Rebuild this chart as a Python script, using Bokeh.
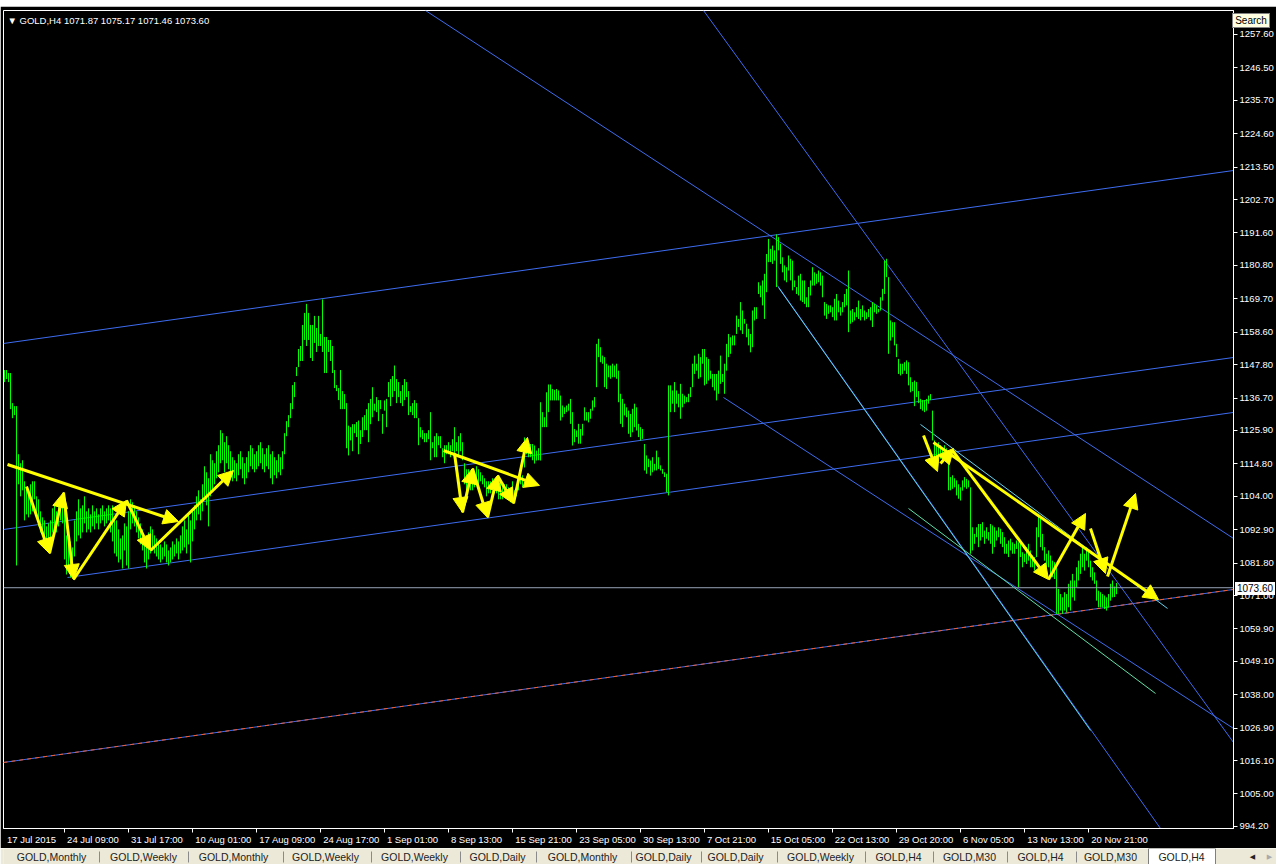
from bokeh.plotting import figure
from bokeh.models import (Range1d, FixedTicker, NumeralTickFormatter, Arrow, NormalHead,
                          ColumnDataSource, Label, Span, Div)
from bokeh.layouts import column
from bokeh.embed import file_html
from bokeh.resources import INLINE
from bokeh.core.properties import value

# ---------------- data ----------------
symbol = "GOLD,H4"
last_ohlc = [1071.87, 1075.17, 1071.46, 1073.60]

bar_high = [
 1146, 1146, 1145, 1145, 1135, 1134, 1134, 1118, 1115, 1116,
 1109, 1107, 1105, 1108, 1109, 1109, 1104, 1103, 1099, 1097,
 1096, 1094, 1095, 1096, 1100, 1101, 1099, 1103, 1102, 1104,
 1101, 1091, 1093, 1089, 1087, 1096, 1099, 1103, 1100, 1101,
 1104, 1099, 1100, 1098, 1101, 1099, 1100, 1098, 1100, 1101,
 1099, 1100, 1101, 1100, 1101, 1097, 1096, 1093, 1090, 1091,
 1095, 1094, 1099, 1103, 1102, 1101, 1099, 1097, 1095, 1093,
 1090, 1089, 1092, 1094, 1093, 1091, 1090, 1089, 1088, 1087,
 1089, 1088, 1086, 1087, 1089, 1088, 1090, 1089, 1091, 1094,
 1096, 1093, 1098, 1096, 1099, 1101, 1104, 1106, 1103, 1108,
 1114, 1112, 1110, 1118, 1116, 1115, 1119, 1121, 1126, 1125,
 1122, 1124, 1121, 1119, 1117, 1116, 1115, 1118, 1119, 1117,
 1115, 1117, 1119, 1121, 1120, 1118, 1119, 1121, 1122, 1120,
 1118, 1120, 1121, 1118, 1119, 1117, 1116, 1118, 1117, 1119,
 1125, 1129, 1131, 1135, 1141, 1142, 1147, 1153, 1154, 1161,
 1165, 1168, 1165, 1161, 1161, 1164, 1160, 1164, 1158, 1169.5,
 1157, 1157, 1156, 1156, 1154, 1146, 1141, 1140, 1146, 1139,
 1138, 1135, 1127.5, 1127, 1128, 1128, 1128.7, 1129.2, 1126, 1130.3,
 1131, 1133, 1135, 1136.4, 1140.3, 1134.8, 1137, 1136, 1136, 1131.4,
 1135.9, 1136.4, 1142, 1143, 1144, 1147.5, 1143, 1142, 1139, 1141,
 1143, 1142, 1139, 1134, 1135, 1136, 1135, 1130, 1127, 1126,
 1125, 1125, 1126, 1132, 1122, 1124, 1125, 1124, 1124, 1120,
 1121, 1121, 1122, 1121, 1123, 1127, 1122, 1124, 1125, 1122,
 1115, 1113, 1113, 1112, 1109, 1111, 1114, 1113, 1112, 1111,
 1110, 1109, 1109, 1109, 1110, 1109, 1109, 1110, 1109, 1107,
 1108, 1108, 1107, 1106, 1109, 1106, 1108, 1111, 1111, 1111,
 1123.6, 1121, 1121, 1121.4, 1121.4, 1120.9, 1119.2, 1120, 1135.3, 1132,
 1130.3, 1138.6, 1141.2, 1141.2, 1139.7, 1139.4, 1139.7, 1139.2, 1137.5, 1134.2,
 1133.6, 1134.2, 1134.8, 1136.4, 1132, 1126.4, 1125.9, 1128.1, 1126.4, 1128.1,
 1133.6, 1132, 1132, 1133.1, 1135.9, 1137, 1154.7, 1156.4, 1153.6, 1150.8,
 1150.3, 1148.1, 1147.5, 1147.5, 1148.1, 1147.5, 1148.1, 1145.8, 1138.1, 1136.4,
 1134.8, 1133.6, 1132.5, 1131.4, 1133.1, 1134.8, 1133.6, 1128.1, 1127, 1126.4,
 1121.4, 1117.6, 1116.5, 1115.9, 1117, 1114.8, 1119.2, 1117, 1114.3, 1113.1,
 1112, 1111.5, 1140.9, 1140.9, 1139.2, 1142, 1139.2, 1138.1, 1141.4, 1138.1,
 1137.5, 1137, 1138.1, 1140.3, 1148.1, 1150.8, 1148.1, 1151.4, 1150.3, 1153,
 1153, 1150.3, 1149.7, 1145.8, 1144.7, 1144.7, 1144.7, 1145.8, 1150.8, 1144.7,
 1148.1, 1154.7, 1158, 1156.9, 1157.5, 1157.5, 1164.1, 1163, 1168.6, 1165.8,
 1163, 1161.4, 1159.7, 1158, 1165.8, 1166.9, 1166.9, 1175.2, 1174.1, 1175.8,
 1178, 1184.6, 1189.6, 1186.3, 1187.4, 1185.8, 1191.1, 1190.2, 1188, 1183.5,
 1180.8, 1180.2, 1184.1, 1183, 1182.4, 1175.8, 1173.6, 1177.4, 1178, 1175.8,
 1175.8, 1170.2, 1173.6, 1175.8, 1180.2, 1178.5, 1178, 1179.1, 1178.5, 1177.4,
 1168.6, 1168, 1167.5, 1167.5, 1166.9, 1169.7, 1171.3, 1169.1, 1166.9, 1168.6,
 1171.3, 1173, 1179.1, 1165.8, 1166.3, 1165.2, 1166.9, 1169.1, 1166.3, 1167.5,
 1165.8, 1165.2, 1166.3, 1166.9, 1168.6, 1168, 1167.5, 1166.3, 1170.2, 1173,
 1182.4, 1183, 1176.9, 1162.5, 1161.9, 1161.9, 1154.7, 1149.7, 1148.1, 1148.1,
 1148.6, 1149.2, 1148.6, 1143.6, 1142, 1142.5, 1142, 1139, 1136.4, 1136,
 1136, 1136.4, 1137.5, 1138, 1132.5, 1122.6, 1121, 1122, 1121, 1120,
 1121, 1120, 1115.9, 1110.4, 1111, 1110, 1109.3, 1108, 1107, 1109.3,
 1110.4, 1109.8, 1109.3, 1107, 1093.7, 1091.5, 1093.7, 1094.8, 1094.8, 1095.4,
 1092.6, 1093.7, 1092.1, 1094.8, 1094.3, 1093.7, 1092.6, 1093.7, 1093.2, 1092.1,
 1090.4, 1088.2, 1089.3, 1089.9, 1088.7, 1088.2, 1089.3, 1088.7, 1088.2, 1085.4,
 1084.9, 1087.1, 1088.2, 1086, 1084.3, 1083.8, 1093.7, 1098.2, 1097.1, 1091.5,
 1087.1, 1084.9, 1086, 1084.3, 1082.6, 1082.1, 1080.4, 1073.2, 1071.5, 1070.4,
 1072.1, 1071.5, 1074.9, 1076, 1078.2, 1076, 1080.4, 1082.6, 1084.9, 1087.1,
 1084.9, 1087.1, 1086, 1082.6, 1080.4, 1078.7, 1076, 1072.6, 1072.1, 1071.5,
 1071, 1070.4, 1071.5, 1074.9, 1076, 1074, 1075.17,
]

bar_low = [
 1142, 1143, 1142, 1133, 1130, 1131, 1081, 1108, 1104, 1106,
 1096, 1098, 1097, 1098, 1099, 1103, 1097, 1094, 1092, 1091,
 1088, 1087, 1089, 1090, 1092, 1093, 1092, 1094, 1096, 1095,
 1083, 1078, 1080, 1077, 1079, 1084, 1089, 1091, 1090, 1092,
 1095, 1092, 1093, 1092, 1094, 1093, 1095, 1093, 1095, 1096,
 1094, 1095, 1096, 1092, 1089, 1085, 1084, 1082, 1083, 1080,
 1086, 1081, 1080, 1093, 1095, 1094, 1092, 1090, 1088, 1086,
 1082, 1080, 1083, 1085, 1086, 1085, 1084, 1083, 1082, 1083,
 1084, 1082, 1081, 1082, 1083, 1084, 1085, 1083, 1085, 1086,
 1087, 1085, 1088, 1082, 1089, 1093, 1096, 1098, 1096, 1099,
 1104, 1101, 1094, 1104, 1106, 1108, 1110, 1112, 1115, 1116,
 1112, 1115, 1113, 1110, 1109, 1110, 1109, 1111, 1113, 1110,
 1108, 1110, 1112, 1114, 1113, 1112, 1113, 1114, 1115, 1113,
 1112, 1114, 1113, 1110, 1108, 1111, 1110, 1112, 1111, 1113,
 1118, 1124, 1127, 1130, 1133, 1137, 1144, 1147, 1149, 1149,
 1156, 1154, 1156, 1150, 1149, 1155, 1152, 1154, 1154, 1152,
 1145, 1145, 1152, 1149, 1145, 1140, 1139, 1136, 1133, 1133,
 1133, 1120, 1117.6, 1122.6, 1119, 1125, 1123.7, 1118, 1121.4, 1123.7,
 1126, 1126, 1122, 1128, 1130.3, 1132.5, 1132, 1129, 1133, 1124.8,
 1132.5, 1127, 1137, 1134, 1137, 1139, 1135, 1137, 1135, 1134,
 1136, 1137, 1131, 1132, 1131, 1130, 1130, 1121, 1123.6, 1123,
 1122, 1122, 1123, 1116, 1120, 1117, 1117, 1121, 1120, 1117,
 1115, 1118, 1118, 1117, 1119, 1117, 1119, 1117, 1119, 1116,
 1108, 1106, 1109, 1106, 1106, 1107, 1108, 1107, 1109, 1108,
 1107, 1104, 1105, 1105, 1106, 1105, 1105, 1103, 1103, 1103,
 1104, 1104, 1103, 1102, 1104, 1103, 1104, 1106, 1108, 1107,
 1113.6, 1118, 1117, 1117, 1116, 1114.9, 1115.9, 1116, 1115.9, 1127,
 1127, 1127, 1132, 1135.9, 1135.9, 1135.9, 1135.9, 1135.9, 1129.2, 1130.3,
 1131.4, 1132, 1132.5, 1128.1, 1120.9, 1122, 1123.7, 1121.5, 1121.5, 1124.2,
 1129.2, 1129.2, 1128.6, 1129.8, 1132.5, 1133.6, 1140.3, 1150.3, 1148.6, 1148.1,
 1140.3, 1139.7, 1143.6, 1143.1, 1143.6, 1143.6, 1143.1, 1135.3, 1128.1, 1127,
 1130.9, 1130.3, 1124.8, 1123.7, 1125.3, 1127, 1125.9, 1123.7, 1122.6, 1123.1,
 1112.6, 1111.5, 1113.7, 1110.9, 1112, 1112.6, 1112.6, 1113.1, 1112.6, 1111.5,
 1110.4, 1105.4, 1104.3, 1132, 1134.8, 1132, 1134.8, 1133.6, 1129.8, 1133.6,
 1134.8, 1135.3, 1135.3, 1137, 1140.3, 1144.7, 1145.8, 1143.1, 1143.6, 1148.1,
 1140.9, 1141.4, 1142.5, 1143.1, 1140.3, 1139.2, 1135.9, 1138.1, 1141.4, 1142,
 1138.1, 1145.8, 1150.3, 1151.4, 1154.2, 1154.2, 1158, 1160.3, 1159.2, 1158,
 1161.4, 1156.9, 1154.2, 1151.9, 1153.6, 1162.5, 1163, 1171.3, 1170.2, 1167.5,
 1163, 1171.9, 1181.9, 1181.9, 1181.3, 1182.4, 1173.6, 1185.8, 1181.3, 1178.5,
 1175.8, 1175.2, 1179.1, 1175.8, 1172.5, 1173.6, 1171.3, 1170.8, 1169.1, 1168.6,
 1168, 1166.9, 1166.9, 1170.8, 1174.1, 1174.1, 1174.7, 1175.2, 1174.1, 1170.2,
 1164.1, 1163, 1164.7, 1165.2, 1163.6, 1162.5, 1162.5, 1165.2, 1164.1, 1165.2,
 1166.9, 1167.5, 1158.6, 1161.4, 1161.9, 1162.5, 1163.6, 1163, 1162.5, 1163.6,
 1162.5, 1163, 1163.6, 1162.5, 1160.3, 1165.2, 1164.7, 1165.2, 1165.8, 1169.1,
 1171.3, 1176.9, 1151.4, 1155.8, 1156.9, 1154.2, 1150.3, 1144.7, 1144.2, 1144.7,
 1145.8, 1144.7, 1140.9, 1138.6, 1139, 1134, 1137, 1135, 1133, 1132.5,
 1132, 1132.5, 1134.8, 1136, 1122.6, 1117, 1116, 1117, 1116.5, 1116,
 1117, 1116, 1106, 1106, 1106.5, 1107, 1104.3, 1103.2, 1102.6, 1105.9,
 1107, 1106.5, 1107, 1084.9, 1086, 1088.2, 1090.4, 1087.1, 1089.3, 1090.4,
 1088.2, 1089.9, 1089.3, 1088.2, 1084.9, 1087.1, 1089.3, 1090.4, 1088.2, 1087.1,
 1084.9, 1084.9, 1083.8, 1086, 1084.9, 1084.9, 1086.5, 1073.8, 1083.8, 1080.4,
 1082.1, 1081.5, 1082.6, 1080.4, 1080.4, 1079.3, 1083.8, 1090.4, 1087.1, 1086,
 1082.6, 1080.4, 1080.4, 1077.1, 1077.1, 1076.5, 1064.9, 1064.9, 1066, 1064.9,
 1066, 1065.4, 1067.1, 1066, 1070.4, 1069.3, 1073.8, 1076, 1078.2, 1080.4,
 1079.3, 1082.6, 1080.4, 1077.1, 1076, 1074.9, 1069.3, 1067.1, 1067.1, 1067.1,
 1066.5, 1066, 1067.1, 1069.3, 1070.4, 1070.5, 1071.46,
]

time_labels = ["17 Jul 2015", "24 Jul 09:00", "31 Jul 17:00", "10 Aug 01:00", "17 Aug 09:00",
               "24 Aug 17:00", "1 Sep 01:00", "8 Sep 13:00", "15 Sep 21:00", "23 Sep 05:00",
               "30 Sep 13:00", "7 Oct 21:00", "15 Oct 05:00", "22 Oct 13:00", "29 Oct 20:00",
               "6 Nov 05:00", "13 Nov 13:00", "20 Nov 21:00"]
time_label_bars = [0, 30, 62, 94, 126, 158, 190, 222, 254, 286, 318, 350, 382, 414, 446, 478, 510, 542]

price_ticks = [1257.6, 1246.5, 1235.7, 1224.6, 1213.5, 1202.7, 1191.6, 1180.8, 1169.7, 1158.6,
               1147.8, 1136.7, 1125.9, 1114.8, 1104.0, 1092.9, 1081.8, 1071.0, 1059.9, 1049.1,
               1038.0, 1026.9, 1016.1, 1005.0, 994.2]

# trend lines (bar index, price)
blue_x0 = [-0.5, -0.5, 31.5, 210.5, 349.5, 359.5, 386.5]
blue_y0 = [1154.83, 1092.97, 1077.0, 1265.58, 1265.58, 1136.87, 1174.1]
blue_x1 = [614.5, 614.5, 614.5, 614.5, 614.5, 614.5, 578.0]
blue_y1 = [1212.37, 1150.18, 1131.9, 1089.98, 1022.13, 1026.79, 993.52]

cyan_x0 = [387.0, 458.0]
cyan_y0 = [1173.46, 1127.9]
cyan_x1 = [543.0, 581.5]
cyan_y1 = [1026.13, 1066.7]

green_x0 = [452.0]
green_y0 = [1099.96]
green_x1 = [575.5]
green_y1 = [1038.43]

support_x = [-0.5, 614.5]
support_y = [1015.48, 1073.02]

# yellow arrows (start -> end)
arrow_x0 = [1.5, 11, 22.5, 29.5, 34.5, 61, 73,
            219.5, 225, 229, 234, 241.5, 246.5, 254.5,
            464.5, 459.5, 468, 474, 522, 543, 551.5]
arrow_y0 = [1114.59, 1107.27, 1085.0, 1105.28, 1076.34, 1102.62, 1085.99,
            1119.25, 1118.25, 1098.63, 1113.26, 1096.97, 1110.93, 1101.62,
            1121.91, 1124.23, 1114.93, 1119.25, 1076.34, 1093.31, 1077.34]
arrow_x1 = [87, 22.5, 29.5, 34.5, 61, 73, 114.5,
            267.5, 229, 234, 241.5, 246.5, 254.5, 261.5,
            577, 466.5, 474.5, 522, 540.5, 550.5, 565.5]
arrow_y1 = [1095.63, 1085.0, 1105.28, 1076.34, 1102.62, 1085.99, 1112.6,
            1107.61, 1098.63, 1113.26, 1096.97, 1110.93, 1101.62, 1123.57,
            1069.67, 1112.26, 1119.92, 1076.34, 1098.3, 1078.34, 1104.95]

tab_labels = ["GOLD,Monthly", "GOLD,Weekly", "GOLD,Monthly", "GOLD,Weekly", "GOLD,Weekly",
              "GOLD,Daily", "GOLD,Monthly", "GOLD,Daily", "GOLD,Daily", "GOLD,Weekly",
              "GOLD,H4", "GOLD,M30", "GOLD,H4", "GOLD,M30", "GOLD,H4"]

# ---------------- layout / style ----------------
FONT = "Liberation Sans"
AX_FS = 9.5
tab_centers = [48, 140, 230, 322, 411, 494, 579, 660, 732, 817, 895, 966, 1037, 1107, 1178]
tab_seps = [96, 185, 280, 368, 457, 533, 628, 698, 774, 862, 930, 1004, 1073]

# approximate text widths (Arial metrics) so time labels sit to the right of their tick
_w = {" ": 278, ":": 278, "J": 500, "u": 556, "l": 222, "A": 667, "g": 556, "S": 667, "e": 556,
      "p": 556, "O": 778, "c": 500, "t": 278, "N": 722, "o": 556, "v": 500}
def text_px(s, fs):
    return sum(_w.get(ch, 556) for ch in s) * fs / 1000.0

PX_PER_BAR = 2.0
label_pos = [round((b + (2.5 + text_px(l, AX_FS) / 2) / PX_PER_BAR) * 4) / 4
             for b, l in zip(time_label_bars, time_labels)]

n = min(len(bar_high), len(bar_low))
idx = list(range(n))

p = figure(frame_width=1230, frame_height=818, x_range=Range1d(-0.5, 614.5),
           y_range=Range1d(993.52, 1265.58), output_backend="svg", toolbar_location=None,
           y_axis_location="right", min_border_left=3, min_border_top=4,
           min_border_right=43, min_border_bottom=20)
p.background_fill_color = "black"
p.border_fill_color = "black"
p.outline_line_color = "white"
p.grid.visible = False

# price axis
p.yaxis.ticker = FixedTicker(ticks=price_ticks, minor_ticks=[])
p.yaxis.formatter = NumeralTickFormatter(format="0.00")
# time axis: labels placed right of the tick marks (tick marks drawn as minor ticks)
p.xaxis.ticker = FixedTicker(ticks=label_pos, minor_ticks=time_label_bars[1:])
p.xaxis.major_label_overrides = {k: l for k, l in zip(label_pos, time_labels)}

for ax in (p.xaxis[0], p.yaxis[0]):
    ax.axis_line_color = "white"
    ax.major_tick_line_color = "white"
    ax.minor_tick_line_color = None
    ax.major_tick_in = 0
    ax.major_tick_out = 4
    ax.major_label_standoff = 2
    ax.major_label_text_color = "white"
    ax.major_label_text_font = FONT
    ax.major_label_text_font_size = f"{AX_FS}px"
p.xaxis.major_tick_line_color = None
p.xaxis.minor_tick_line_color = "white"
p.xaxis.minor_tick_in = 0
p.xaxis.minor_tick_out = 4
p.xaxis.major_label_standoff = 1

# trend lines
p.segment(x0=blue_x0, y0=blue_y0, x1=blue_x1, y1=blue_y1, line_color="#3d6cf0", line_width=1)
p.line(x=support_x, y=support_y, line_color="#3d6cf0", line_width=1)
p.line(x=support_x, y=support_y, line_color="#ff5a1e", line_width=1, line_dash="4 4")
p.segment(x0=cyan_x0, y0=cyan_y0, x1=cyan_x1, y1=cyan_y1, line_color="#62d4f0", line_width=1)
p.segment(x0=green_x0, y0=green_y0, x1=green_x1, y1=green_y1, line_color="#5fe0a8", line_width=1)

# current price line
p.add_layout(Span(location=last_ohlc[3], dimension="width", line_color="#97a3b6", line_width=1))

# OHLC bars (high-low)
p.segment(x0=idx, y0=bar_low[:n], x1=idx, y1=bar_high[:n], line_color="#00ff00", line_width=1)

# yellow arrows
asrc = ColumnDataSource(dict(x0=arrow_x0, y0=arrow_y0, x1=arrow_x1, y1=arrow_y1))
p.add_layout(Arrow(end=NormalHead(size=15, fill_color="#ffff00", line_color="#ffff00", line_width=1),
                   x_start="x0", y_start="y0", x_end="x1", y_end="y1", source=asrc,
                   line_color="#ffff00", line_width=3))

# header text
p.add_layout(Label(x=1.5, y=1262.4, text="\u25bc " + symbol + "  " + " ".join(f"{v:.2f}" for v in last_ohlc),
                   text_color="white", text_font=FONT, text_font_size="9.5px", text_baseline="middle"))

# ---------------- top strip ----------------
top = figure(frame_width=1276, frame_height=6, x_range=Range1d(0, 1276), y_range=Range1d(0, 6),
             output_backend="svg", toolbar_location=None, min_border=0)
top.axis.visible = False
top.grid.visible = False
top.outline_line_color = None
top.background_fill_color = "#e4e1d6"
top.border_fill_color = "#e4e1d6"

# ---------------- tab strip ----------------
t = figure(frame_width=1276, frame_height=16, x_range=Range1d(0, 1276), y_range=Range1d(0, 16),
           output_backend="svg", toolbar_location=None, min_border=0)
t.axis.visible = False
t.grid.visible = False
t.outline_line_color = None
t.background_fill_color = "#ece9d8"
t.border_fill_color = "#ece9d8"
t.quad(left=[1145], right=[1212], bottom=[-1], top=[16], fill_color="white", line_color="#7f7f7f")
t.segment(x0=tab_seps, y0=[2] * len(tab_seps), x1=tab_seps, y1=[13] * len(tab_seps),
          line_color="#8a8a8a", line_width=1)
t.text(x=tab_centers, y=[8] * len(tab_centers), text=tab_labels, text_align="center",
       text_baseline="middle", text_font=value(FONT), text_font_size="10.5px", text_color="#222222")
t.text(x=[1249, 1266], y=[8, 8], text=["\u25c0", "\u25b6"], text_align="center", text_baseline="middle",
       text_font=value("DejaVu Sans"), text_font_size="7px", text_color=["#222222", "#aaaaaa"])

# small boxes over the price scale
box_css = {"position": "absolute", "color": "black", "font-family": FONT, "font-size": "10px",
           "text-align": "center", "box-sizing": "border-box", "z-index": "10", "overflow": "hidden"}
search_box = Div(text="Search", width=38, height=15, margin=0,
                 styles=dict(box_css, left="1232px", top="13px", background="#ffffe1",
                             border="1px solid #808080", **{"line-height": "13px"}))
price_box = Div(text=f"{last_ohlc[3]:.2f}", width=40, height=13, margin=0,
                styles=dict(box_css, left="1235px", top="582px", background="white",
                            **{"line-height": "13px"}))

layout = column(top, p, t, search_box, price_box, spacing=0)
open("out.html", "w").write(file_html(layout, INLINE))
